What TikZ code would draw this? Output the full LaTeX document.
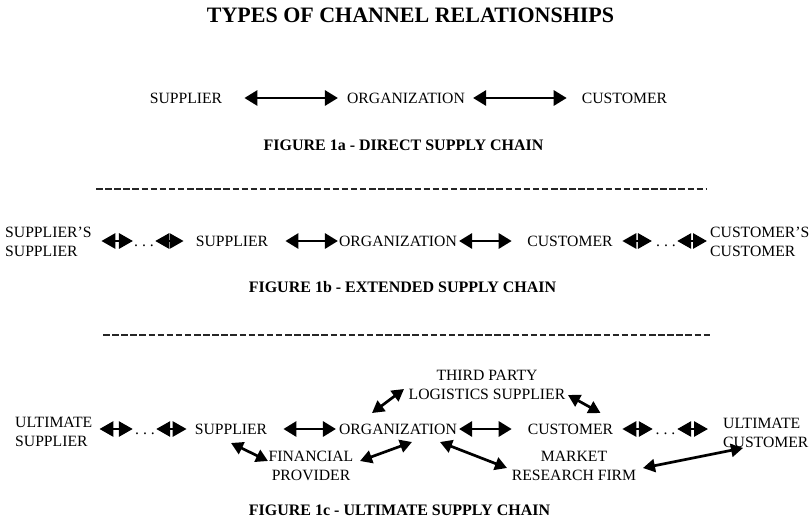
\documentclass[tikz,border=0pt]{standalone}
\usepackage{fontspec}
\setmainfont{Liberation Serif}
\usetikzlibrary{arrows.meta,calc}

\begin{document}
\begin{tikzpicture}[x=1pt,y=-1pt,
  lbl/.style={inner sep=0pt, font=\fontsize{15.7}{18.6}\selectfont},
  two/.style={lbl, align=left},
  figcaption/.style={inner sep=0pt, font=\fontsize{16}{19}\selectfont\bfseries},
  bi/.style={line width=2.9pt, {Triangle[length=13pt,width=15pt]}-{Triangle[length=13pt,width=15pt]}},
  sbi/.style={line width=2.8pt, {Triangle[length=14pt,width=15pt]}-{Triangle[length=14pt,width=15pt]}},
  dbi/.style={line width=2.7pt, {Triangle[length=12pt,width=13pt]}-{Triangle[length=12pt,width=13pt]}},
  sep/.style={line width=1.8pt, dash pattern=on 6.5pt off 2.6pt, black!85}]
\useasboundingbox (0,0) rectangle (811,522);

% title
\node[inner sep=0pt, font=\fontsize{22}{26}\selectfont\bfseries] (title) at (410.5,15) {TYPES OF CHANNEL RELATIONSHIPS};

% ---- direct supply chain ----
\node[lbl] (aS) at (186,98) {SUPPLIER};
\node[lbl] (aO) at (406,98) {ORGANIZATION};
\node[lbl] (aC) at (624.5,98) {CUSTOMER};
\draw[bi, shorten <=22pt, shorten >=9pt] (aS) -- (aO);
\draw[bi, shorten <=8pt, shorten >=15pt] (aO) -- (aC);
\node[figcaption] (capA) at (403.5,145) {FIGURE 1a - DIRECT SUPPLY CHAIN};

\draw[sep] (96,189) -- (706,189);

% ---- extended supply chain ----
\node[two, anchor=west] (bSS) at (5,242) {SUPPLIER'S\\SUPPLIER};
\node[lbl, anchor=base] (bD1) at (144,246.2) {.\ .\ .};
\node[lbl] (bS) at (232,241) {SUPPLIER};
\node[lbl] (bO) at (398,241) {ORGANIZATION};
\node[lbl] (bC) at (570,241) {CUSTOMER};
\node[lbl, anchor=base] (bD2) at (666,246.2) {.\ .\ .};
\node[two, anchor=west] (bCC) at (710,242) {CUSTOMER'S\\CUSTOMER};

\draw[sbi, shorten <=9.6pt, shorten >=1pt] (bSS.east |- bS.west) -- (bD1.west |- bS.west);
\draw[sbi, shorten <=1.2pt, shorten >=12pt] (bD1.east |- bS.west) -- (bS.west);
\draw[bi, shorten <=17pt, shorten >=1pt] (bS) -- (bO);
\draw[bi, shorten <=2pt, shorten >=15.5pt] (bO) -- (bC);
\draw[sbi, shorten <=9.5pt, shorten >=4pt] (bC.east) -- (bD2.west |- bC.east);
\draw[sbi, shorten <=1.2pt, shorten >=3pt] (bD2.east |- bC.east) -- (bCC.west |- bC.east);
\node[figcaption] (capB) at (402.5,287) {FIGURE 1b - EXTENDED SUPPLY CHAIN};

\draw[sep] (103,335) -- (712,335);

% ---- ultimate supply chain ----
\node[two, anchor=west] (cUS) at (15,432) {ULTIMATE\\SUPPLIER};
\node[lbl, anchor=base] (cD1) at (145,434.2) {.\ .\ .};
\node[lbl] (cS) at (231,429) {SUPPLIER};
\node[lbl] (cO) at (398,429) {ORGANIZATION};
\node[lbl] (cC) at (570.5,429) {CUSTOMER};
\node[lbl, anchor=base] (cD2) at (665.5,434.2) {.\ .\ .};
\node[two, anchor=west] (cUC) at (723,433) {ULTIMATE\\CUSTOMER};
\node[lbl, align=center] (cT) at (487,385) {THIRD PARTY\\LOGISTICS SUPPLIER};
\node[lbl, align=center] (cF) at (311,466) {FINANCIAL\\PROVIDER};
\node[lbl, align=center] (cM) at (574,466) {MARKET\\RESEARCH FIRM};

\draw[sbi, shorten <=7pt, shorten >=2.2pt] (cUS.east |- cS.west) -- (cD1.west |- cS.west);
\draw[sbi, shorten <=1.2pt, shorten >=8pt] (cD1.east |- cS.west) -- (cS.west);
\draw[bi, shorten <=16pt, shorten >=3pt] (cS) -- (cO);
\draw[bi, shorten <=2pt, shorten >=16pt] (cO) -- (cC);
\draw[sbi, shorten <=9pt, shorten >=2.7pt] (cC.east) -- (cD2.west |- cC.east);
\draw[sbi, shorten <=1.7pt, shorten >=15pt] (cD2.east |- cC.east) -- (cUC.west |- cC.east);

\draw[dbi] ([shift={(-26,-16)}]cO.center) -- ([shift={(-83,4)}]cT.center);
\draw[dbi] ([shift={(81,10)}]cT.center) -- ([shift={(30,-16)}]cC.center);
\draw[dbi] ([shift={(0,14)}]cS.center) -- ([shift={(-43,-5)}]cF.center);
\draw[dbi] ([shift={(49,-5)}]cF.center) -- ([shift={(14,13)}]cO.center);
\draw[dbi] ([shift={(42,13)}]cO.center) -- ([shift={(-67,2)}]cM.center);
\draw[dbi] ([shift={(69,2)}]cM.center) -- ([shift={(20,15)}]cUC.west);

\node[figcaption] (capC) at (399.5,510) {FIGURE 1c - ULTIMATE SUPPLY CHAIN};
\end{tikzpicture}
\end{document}
